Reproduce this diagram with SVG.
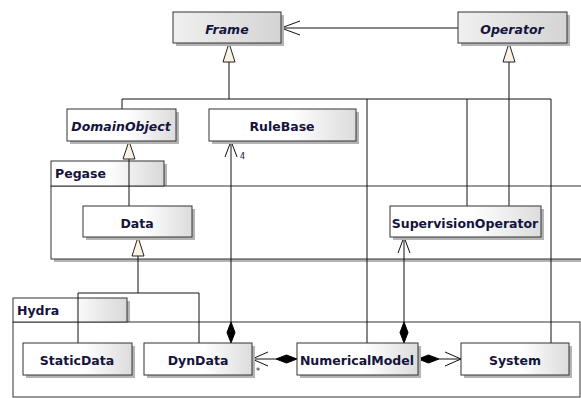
<svg xmlns="http://www.w3.org/2000/svg" width="581" height="398" viewBox="0 0 581 398">
<defs>
<linearGradient id="gw" x1="0" y1="0" x2="1" y2="0">
<stop offset="0" stop-color="#ffffff"/><stop offset="0.55" stop-color="#ffffff"/><stop offset="1" stop-color="#dcdcdc"/>
</linearGradient>
<linearGradient id="gg" x1="0" y1="0" x2="1" y2="0">
<stop offset="0" stop-color="#f0f0f0"/><stop offset="1" stop-color="#d4d4d4"/>
</linearGradient>
<linearGradient id="gt" x1="0" y1="0" x2="1" y2="0">
<stop offset="0" stop-color="#ffffff"/><stop offset="0.5" stop-color="#ffffff"/><stop offset="1" stop-color="#d8d8d8"/>
</linearGradient>
</defs>
<style>
.box{fill:url(#gw);stroke:#333;stroke-width:1}
.abox{fill:url(#gg);stroke:#333;stroke-width:1}
.sh{fill:#b4b4b4}
.tx{font-family:"DejaVu Sans",sans-serif;font-weight:bold;font-size:12.5px;fill:#14143c;text-anchor:middle}
.it{font-style:italic}
.pk{font-family:"DejaVu Sans",sans-serif;font-weight:bold;font-size:12.5px;fill:#14143c}
.ln{fill:none;stroke:#111;stroke-width:1}
.tri{fill:#fbf2e6;stroke:#222;stroke-width:1}
.dia{fill:#000;stroke:#000;stroke-width:1}
.sm{font-family:"DejaVu Sans",sans-serif;font-size:8px;fill:#14143c}
</style>
<rect width="581" height="398" fill="#fff"/>

<g id="pkg-pegase">
<rect class="sh" x="54" y="164" width="113" height="25"/>
<rect class="sh" x="54" y="189" width="527" height="73"/>
<rect x="51" y="186" width="540" height="73" fill="#fff" stroke="#333"/>
<rect x="51" y="161" width="113" height="25" fill="url(#gt)" stroke="#333"/>
<text class="pk" x="55" y="178">Pegase</text>
</g>
<g id="pkg-hydra">
<rect class="sh" x="16" y="301" width="114" height="24"/>
<rect x="13" y="322" width="567" height="75" fill="#fff" stroke="#333"/>
<rect x="13" y="298" width="114" height="24" fill="url(#gt)" stroke="#333"/>
<text class="pk" x="17" y="315">Hydra</text>
</g>

<g id="connectors">
<path class="ln" d="M458 28 H281"/>
<path class="ln" d="M300 21 L281 28 L300 35"/>
<path class="ln" d="M229 62 V99 M122 99 H551 M122 99 V109 M367 99 V343 M467 99 V206 M551 99 V343"/>
<polygon class="tri" points="229,43 223,62 235,62"/>
<path class="ln" d="M509 62 V206"/>
<polygon class="tri" points="509,43 503,62 515,62"/>
<path class="ln" d="M129 159 V206"/>
<polygon class="tri" points="129,141 123,159 135,159"/>
<path class="ln" d="M138 256 V293 M78 293 H199 M78 293 V343 M199 293 V343"/>
<polygon class="tri" points="138,237 132,256 144,256"/>
<path class="ln" d="M231 141 V322"/>
<path class="ln" d="M225 157 L231 141 L237 157"/>
<polygon class="dia" points="231,322 235,332.5 231,343 227,332.5"/>
<text class="sm" x="240" y="159">4</text>
<path class="ln" d="M404 237 V322"/>
<path class="ln" d="M398 253 L404 237 L410 253"/>
<polygon class="dia" points="404,322 408,332.5 404,343 400,332.5"/>
<path class="ln" d="M276 359 H252"/>
<path class="ln" d="M268 352 L252 359 L268 366"/>
<polygon class="dia" points="297,359 286.5,363 276,359 286.5,355"/>
<text class="sm" x="256" y="374">*</text>
<path class="ln" d="M439 359 H461"/>
<path class="ln" d="M445 352 L461 359 L445 366"/>
<polygon class="dia" points="418,359 428.5,355 439,359 428.5,363"/>
</g>

<g id="node-frame">
<rect class="sh" x="176" y="15" width="108" height="31"/>
<rect class="abox" x="173" y="12" width="108" height="31"/>
<text class="tx it" x="227" y="34">Frame</text>
</g>
<g id="node-operator">
<rect class="sh" x="461" y="15" width="109" height="31"/>
<rect class="abox" x="458" y="12" width="109" height="31"/>
<text class="tx it" x="512" y="34">Operator</text>
</g>
<g id="node-domainobject">
<rect class="sh" x="70" y="112" width="109" height="32"/>
<rect class="box" x="67" y="109" width="109" height="32"/>
<text class="tx it" x="121" y="131">DomainObject</text>
</g>
<g id="node-rulebase">
<rect class="sh" x="212" y="112" width="147" height="32"/>
<rect class="box" x="209" y="109" width="147" height="32"/>
<text class="tx" x="282" y="131">RuleBase</text>
</g>
<g id="node-data">
<rect class="sh" x="86" y="209" width="109" height="31"/>
<rect class="box" x="83" y="206" width="109" height="31"/>
<text class="tx" x="137" y="228">Data</text>
</g>
<g id="node-supervisionoperator">
<rect class="sh" x="393" y="209" width="151" height="31"/>
<rect class="box" x="390" y="206" width="151" height="31"/>
<text class="tx" x="465" y="228">SupervisionOperator</text>
</g>
<g id="node-staticdata">
<rect class="sh" x="26" y="346" width="109" height="32"/>
<rect class="box" x="23" y="343" width="109" height="32"/>
<text class="tx" x="77" y="365">StaticData</text>
</g>
<g id="node-dyndata">
<rect class="sh" x="147" y="346" width="108" height="32"/>
<rect class="box" x="144" y="343" width="108" height="32"/>
<text class="tx" x="198" y="365">DynData</text>
</g>
<g id="node-numericalmodel">
<rect class="sh" x="300" y="346" width="121" height="32"/>
<rect class="box" x="297" y="343" width="121" height="32"/>
<text class="tx" x="357" y="365">NumericalModel</text>
</g>
<g id="node-system">
<rect class="sh" x="464" y="346" width="108" height="32"/>
<rect class="box" x="461" y="343" width="108" height="32"/>
<text class="tx" x="515" y="365">System</text>
</g>
</svg>
